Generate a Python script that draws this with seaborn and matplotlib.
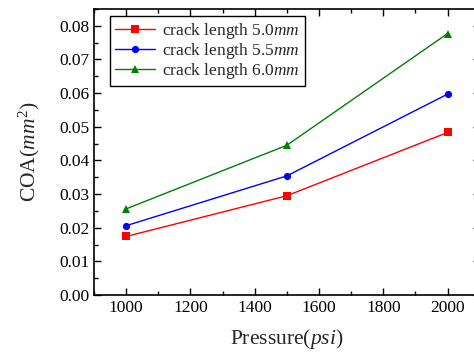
import matplotlib
matplotlib.use("Agg")
import matplotlib.pyplot as plt
import seaborn as sns
import pandas as pd
from matplotlib.ticker import MultipleLocator

pressure = [1000, 1500, 2000]
coa_50 = [0.0174, 0.0295, 0.0483]
coa_55 = [0.0206, 0.0354, 0.0597]
coa_60 = [0.0256, 0.0445, 0.0777]
labels = ["crack length 5.0$mm$", "crack length 5.5$mm$", "crack length 6.0$mm$"]
colors = ["#ff0000", "#0000ff", "#008000"]
markers = ["s", "o", "^"]

sns.set_theme(style="ticks")
plt.rcParams["font.family"] = ["Liberation Serif", "DejaVu Serif"]
plt.rcParams["mathtext.fontset"] = "custom"
plt.rcParams["mathtext.rm"] = "Liberation Serif"
plt.rcParams["mathtext.it"] = "Liberation Serif:italic"

rows = []
for lab, vals in zip(labels, [coa_50, coa_55, coa_60]):
    for p, v in zip(pressure, vals):
        rows.append({"Pressure": p, "COA": v, "series": lab})
df = pd.DataFrame(rows)

fig = plt.figure(figsize=(4.74, 3.53), dpi=100)
ax = fig.add_axes([94/474, 58/353, 385.7/474, 286/353])

sns.lineplot(data=df, x="Pressure", y="COA", hue="series", style="series",
             palette=dict(zip(labels, colors)), markers=dict(zip(labels, markers)),
             dashes=False, linewidth=1.0, markersize=5.2, markeredgewidth=0,
             ax=ax)

ax.set_xlim(900, 2100)
ax.set_ylim(0, 0.085)
ax.xaxis.set_major_locator(MultipleLocator(200))
ax.xaxis.set_minor_locator(MultipleLocator(100))
ax.yaxis.set_major_locator(MultipleLocator(0.01))
ax.yaxis.set_minor_locator(MultipleLocator(0.005))
ax.yaxis.set_major_formatter(matplotlib.ticker.FormatStrFormatter("%.2f"))
ax.tick_params(which="both", direction="in", top=True, right=True, labelsize=12.5, width=1.0, colors="black")
ax.tick_params(which="major", length=5)
ax.tick_params(which="minor", length=3)
for s in ax.spines.values():
    s.set_linewidth(1.2)
    s.set_color("black")

ax.set_xlabel("Pressure($psi$)", fontsize=15.5, labelpad=8)
ax.set_ylabel("COA($mm^2$)", fontsize=15.5, labelpad=12)

leg = ax.legend(loc="upper left", bbox_to_anchor=(0.041, 0.976), fontsize=12.5,
                frameon=True, fancybox=False, edgecolor="black", framealpha=1,
                handlelength=2.3, borderpad=0.3, labelspacing=0.0, handletextpad=0.4,
                borderaxespad=0)
leg.get_frame().set_linewidth(1.0)

fig.savefig("out.png", dpi=100)
